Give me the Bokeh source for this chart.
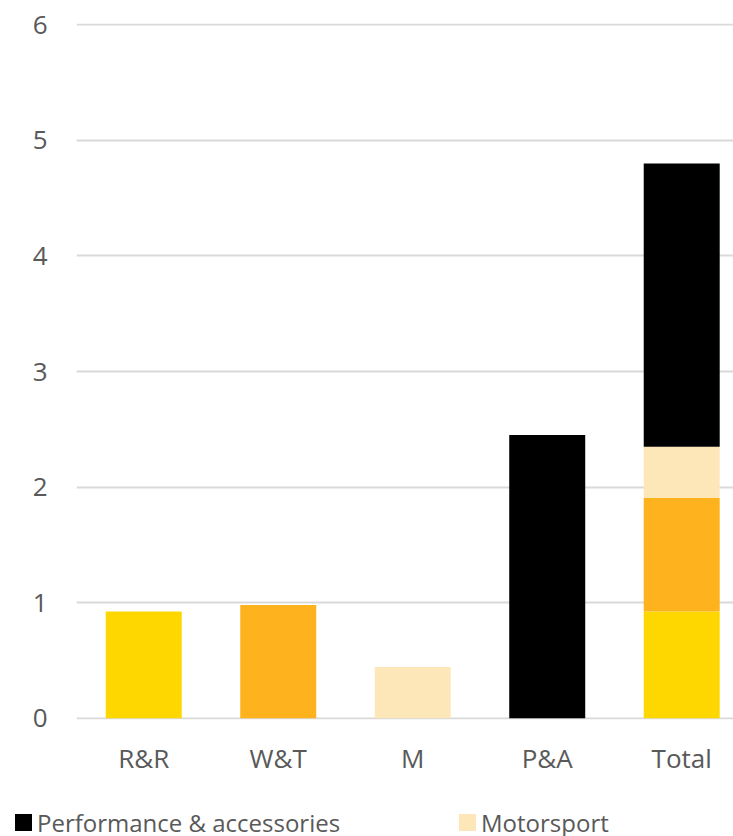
from bokeh.plotting import figure
from bokeh.models import Range1d, FixedTicker, Div
from bokeh.layouts import column
from bokeh.embed import file_html
from bokeh.resources import INLINE

categories = ["R&R", "W&T", "M", "P&A", "Total"]
repair_replacement = [0.925, 0, 0, 0, 0.925]
wheels_tires = [0, 0.98, 0, 0, 0.98]
motorsport = [0, 0, 0.445, 0, 0.445]
performance_accessories = [0, 0, 0, 2.45, 2.45]
y_ticks = [0, 1, 2, 3, 4, 5, 6]
legend_labels = ["Performance & accessories", "Motorsport"]

colors = ["#FFD700", "#FEB21E", "#FDE7B8", "#000000"]
series = ["rr", "wt", "ms", "pa"]
legend_colors = [colors[3], colors[2]]

xs = [i + 0.5 for i in range(len(categories))]
data = dict(x=xs, rr=repair_replacement, wt=wheels_tires, ms=motorsport, pa=performance_accessories)

font = "Open Sans"
lab_color = "#595959"

p = figure(width=733, height=790, output_backend="svg", toolbar_location=None,
           x_range=Range1d(0, 4.885), y_range=Range1d(-0.01, 6.01),
           min_border_left=76, min_border_right=0, min_border_top=23, min_border_bottom=71)
p.outline_line_color = None
p.background_fill_color = "white"
p.border_fill_color = "white"

p.xgrid.grid_line_color = None
p.ygrid.ticker = FixedTicker(ticks=y_ticks)
p.ygrid.grid_line_color = "#D9D9D9"
p.ygrid.grid_line_width = 2

rs = p.vbar_stack(series, x="x", width=0.565, color=colors, line_color=None, source=data)

p.xaxis.ticker = FixedTicker(ticks=xs)
p.xaxis.major_label_overrides = {x: c for x, c in zip(xs, categories)}
p.yaxis.ticker = FixedTicker(ticks=y_ticks)
for ax in (p.xaxis, p.yaxis):
    ax.axis_line_color = None
    ax.major_tick_line_color = None
    ax.minor_tick_line_color = None
    ax.major_tick_out = 0
    ax.major_tick_in = 0
    ax.major_label_text_font = font
    ax.major_label_text_font_size = "26px"
    ax.major_label_text_color = lab_color
p.yaxis.major_label_standoff = 29
p.xaxis.major_label_standoff = 20

# legend strip (HTML) below the chart
item_left = [15, 459]
parts = []
for lbl, col, x0 in zip(legend_labels, legend_colors, item_left):
    parts.append(
        f'<span style="position:absolute;left:{x0}px;top:24px;width:17px;height:17px;background:{col};"></span>'
        f'<span style="position:absolute;left:{x0 + 22}px;top:16px;white-space:nowrap;'
        f'font-family:\'Open Sans\';font-size:24px;line-height:normal;color:{lab_color};">'
        f'{lbl.replace("&", "&amp;")}</span>')
html = ('<div style="position:relative;width:733px;height:46px;overflow:hidden;background:white;margin:0;padding:0;">'
        + "".join(parts) + '</div>')
lg = Div(text=html, width=733, height=46, margin=0)

layout = column(p, lg, spacing=0)
open("out.html", "w").write(file_html(layout, INLINE))
